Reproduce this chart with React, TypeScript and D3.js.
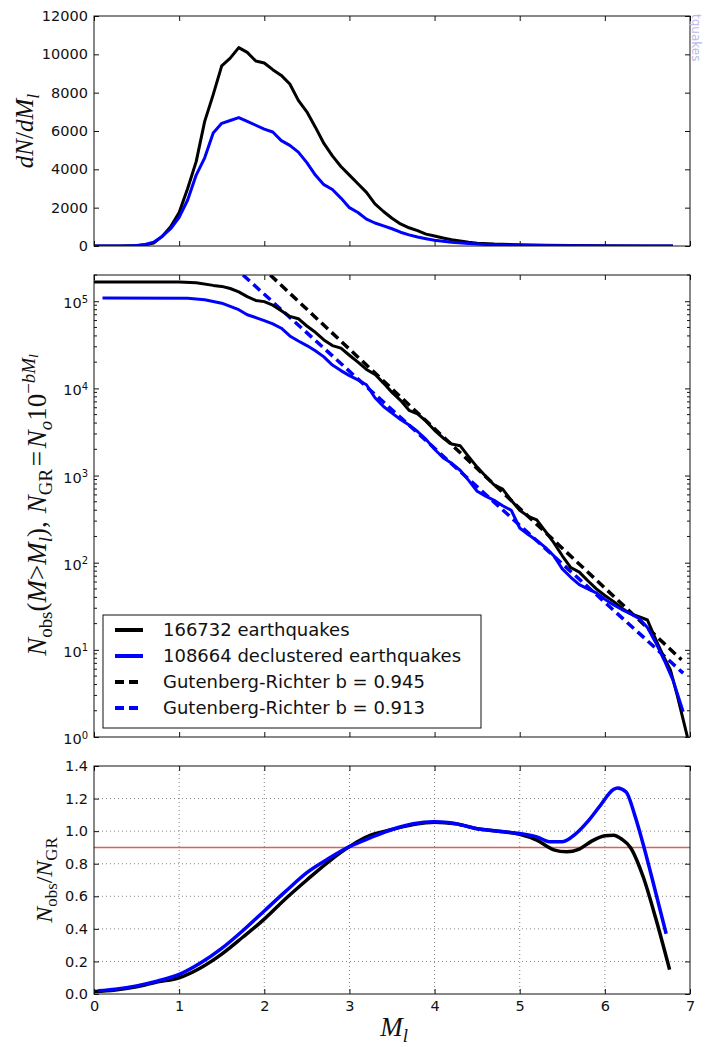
import React, { useRef, useEffect } from 'react';
import * as d3 from 'd3';

// magnitude ticks shared by all three panels
const magTicks = [0, 1, 2, 3, 4, 5, 6, 7];
const densityTicks = [0, 2000, 4000, 6000, 8000, 10000, 12000];
const cumulTicks = [1, 10, 100, 1000, 10000, 100000];
const ratioTicks = [0, 0.2, 0.4, 0.6, 0.8, 1.0, 1.2, 1.4];

// dN/dM, all events and declustered
const dndmAll: [number, number][] = [
  [0, 0], [0.3, 0], [0.5, 20], [0.6, 60], [0.7, 150], [0.8, 500], [0.9, 1000], [1.0, 1750],
  [1.1, 3000], [1.2, 4400], [1.3, 6500], [1.4, 7900], [1.5, 9400], [1.6, 9800], [1.7, 10350],
  [1.8, 10100], [1.9, 9650], [2.0, 9550], [2.1, 9200], [2.2, 8900], [2.3, 8450], [2.4, 7600],
  [2.5, 7000], [2.6, 6200], [2.7, 5350], [2.8, 4700], [2.9, 4150], [3.0, 3700], [3.1, 3250],
  [3.2, 2800], [3.3, 2200], [3.4, 1800], [3.5, 1450], [3.6, 1150], [3.7, 950], [3.8, 800],
  [3.9, 620], [4.0, 520], [4.1, 420], [4.2, 330], [4.3, 260], [4.4, 200], [4.5, 150],
  [4.7, 100], [5.0, 60], [5.3, 35], [5.6, 20], [6.0, 10], [6.5, 5], [6.8, 2],
];
const dndmDecl: [number, number][] = [
  [0, 0], [0.4, 0], [0.5, 20], [0.6, 80], [0.7, 200], [0.8, 500], [0.9, 900], [1.0, 1500],
  [1.1, 2400], [1.2, 3700], [1.3, 4600], [1.4, 5900], [1.5, 6400], [1.6, 6550], [1.7, 6700],
  [1.8, 6500], [1.9, 6300], [2.0, 6100], [2.1, 5950], [2.2, 5500], [2.3, 5250], [2.4, 4900],
  [2.5, 4350], [2.6, 3700], [2.7, 3200], [2.8, 2950], [2.9, 2500], [3.0, 2000], [3.1, 1750],
  [3.2, 1400], [3.3, 1200], [3.4, 1050], [3.5, 900], [3.6, 720], [3.7, 580], [3.8, 470],
  [3.9, 380], [4.0, 300], [4.2, 200], [4.4, 130], [4.6, 80], [4.8, 50], [5.0, 30],
  [5.5, 12], [6.0, 5], [6.5, 2], [6.8, 1],
];

// cumulative counts N(M > Ml)
const cumAll: [number, number][] = [
  [0, 166732], [1.0, 166500], [1.2, 163000], [1.4, 152000], [1.5, 148000], [1.6, 140000],
  [1.7, 128000], [1.8, 113000], [1.9, 102000], [2.0, 99000], [2.1, 90000], [2.2, 78000],
  [2.3, 67000], [2.4, 63000], [2.5, 52000], [2.6, 44000], [2.7, 36000], [2.8, 31000],
  [2.9, 29000], [3.0, 24000], [3.1, 20000], [3.2, 16500], [3.3, 14500], [3.4, 11500],
  [3.5, 9000], [3.6, 7300], [3.7, 5600], [3.8, 5100], [3.9, 4200], [4.0, 3300], [4.1, 2700],
  [4.2, 2300], [4.3, 2200], [4.4, 1650], [4.5, 1250], [4.6, 980], [4.7, 780], [4.8, 700],
  [4.9, 520], [5.0, 400], [5.1, 340], [5.2, 310], [5.3, 230], [5.4, 170], [5.5, 120],
  [5.6, 88], [5.7, 78], [5.8, 62], [5.9, 50], [6.0, 42], [6.1, 36], [6.2, 30], [6.3, 26],
  [6.4, 24], [6.5, 22], [6.6, 13], [6.7, 8], [6.77, 5.9], [6.85, 3], [6.97, 1],
];
const cumDecl: [number, number][] = [
  [0.1, 108664], [1.1, 108400], [1.3, 104000], [1.5, 95000], [1.7, 80000], [1.8, 70000],
  [1.9, 65000], [2.0, 60000], [2.1, 55000], [2.2, 49000], [2.3, 40000], [2.4, 35000],
  [2.5, 31000], [2.6, 27000], [2.7, 23000], [2.8, 18500], [2.9, 16000], [3.0, 14000],
  [3.1, 12500], [3.2, 11000], [3.3, 7800], [3.4, 6200], [3.5, 5200], [3.6, 4400],
  [3.7, 3800], [3.8, 3200], [3.9, 2600], [4.0, 2000], [4.1, 1600], [4.2, 1380], [4.3, 1150],
  [4.4, 880], [4.5, 660], [4.6, 580], [4.7, 520], [4.8, 450], [4.9, 400], [5.0, 250],
  [5.1, 210], [5.2, 180], [5.3, 150], [5.4, 120], [5.5, 85], [5.6, 68], [5.7, 56], [5.8, 50],
  [5.9, 45], [6.0, 38], [6.1, 33], [6.2, 29], [6.3, 26], [6.4, 23], [6.5, 18], [6.6, 12],
  [6.7, 7.5], [6.8, 4.5], [6.92, 1.95],
];

// Gutenberg-Richter fits, end points
const grAll: [number, number][] = [[2.07, 200000], [6.9, 7.7]];
const grDecl: [number, number][] = [[1.75, 200000], [6.92, 5.4]];

// N_obs / N_GR
const ratioAll: [number, number][] = [
  [0, 0.015], [0.25, 0.025], [0.5, 0.045], [0.75, 0.075], [1.0, 0.1], [1.25, 0.16],
  [1.5, 0.245], [1.75, 0.35], [2.0, 0.46], [2.25, 0.585], [2.5, 0.7], [2.75, 0.81],
  [3.0, 0.905], [3.25, 0.975], [3.5, 1.01], [3.75, 1.04], [4.0, 1.055], [4.25, 1.045],
  [4.5, 1.015], [4.75, 1.0], [5.0, 0.98], [5.2, 0.945], [5.4, 0.885], [5.55, 0.873],
  [5.7, 0.89], [5.85, 0.94], [6.0, 0.972], [6.1, 0.975], [6.2, 0.95], [6.3, 0.9],
  [6.45, 0.72], [6.6, 0.46], [6.76, 0.15],
];
const ratioDecl: [number, number][] = [
  [0.05, 0.02], [0.25, 0.03], [0.5, 0.05], [0.75, 0.08], [1.0, 0.12], [1.25, 0.19],
  [1.5, 0.28], [1.75, 0.39], [2.0, 0.51], [2.25, 0.63], [2.5, 0.745], [2.75, 0.83],
  [3.0, 0.905], [3.25, 0.96], [3.5, 1.01], [3.75, 1.045], [4.0, 1.057], [4.25, 1.045],
  [4.5, 1.015], [4.75, 1.0], [5.0, 0.985], [5.2, 0.965], [5.35, 0.935], [5.5, 0.935],
  [5.65, 0.98], [5.8, 1.06], [5.95, 1.16], [6.1, 1.255], [6.15, 1.265], [6.25, 1.24],
  [6.35, 1.1], [6.45, 0.92], [6.55, 0.72], [6.72, 0.37],
];
const ratioLevel = 0.9;

const legendLabels = [
  '166732 earthquakes',
  '108664 declustered earthquakes',
  'Gutenberg-Richter b = 0.945',
  'Gutenberg-Richter b = 0.913',
];

type Part = { s: string; it?: boolean; pos?: 'sub' | 'sup' | 'supsub'; dx?: number };

const W = 707;
const H = 1047;
const L = 94;
const R = 690;
const tickFont = 'DejaVu Sans, Verdana, sans-serif';
const mathFont = 'Liberation Serif, Times New Roman, serif';

const App = () => {
  const ref = useRef<SVGSVGElement>(null);

  useEffect(() => {
    const svg = d3.select(ref.current);
    svg.selectAll('*').remove();

    const x = d3.scaleLinear().domain([0, 7]).range([L, R]);
    const yTop = d3.scaleLinear().domain([0, 12000]).range([246, 16]);
    const yMid = d3.scaleLog().domain([1, 2e5]).range([737, 275]);
    const yBot = d3.scaleLinear().domain([0, 1.4]).range([994, 766]);

    const defs = svg.append('defs');
    const clip = (id: string, y0: number, y1: number) => {
      defs.append('clipPath').attr('id', id)
        .append('rect').attr('x', L).attr('y', y0).attr('width', R - L).attr('height', y1 - y0);
    };
    clip('cTop', 16, 246);
    clip('cMid', 275, 737);
    clip('cBot', 766, 994);

    const styleAxis = (g: any) => {
      g.select('.domain').remove();
      g.selectAll('line').attr('stroke', '#111');
      g.selectAll('text').attr('font-family', tickFont).attr('font-size', 14.5).attr('fill', '#111');
    };

    const axes = (y: any, y0: number, y1: number, yTicks: number[], yFmt: any, xLabels: boolean) => {
      svg.append('g').attr('transform', `translate(0,${y1})`)
        .call(d3.axisBottom(x).tickValues(magTicks).tickSize(-5).tickPadding(7)
          .tickFormat(xLabels ? (d: any) => String(d) : () => ''))
        .call(styleAxis);
      svg.append('g').attr('transform', `translate(0,${y0})`)
        .call(d3.axisTop(x).tickValues(magTicks).tickSize(-5).tickFormat(() => ''))
        .call(styleAxis);
      const gl = svg.append('g').attr('transform', `translate(${L},0)`)
        .call(d3.axisLeft(y).tickValues(yTicks).tickSize(-5).tickPadding(6).tickFormat(yFmt))
        .call(styleAxis);
      svg.append('g').attr('transform', `translate(${R},0)`)
        .call(d3.axisRight(y).tickValues(yTicks).tickSize(-5).tickFormat(() => ''))
        .call(styleAxis);
      return gl;
    };

    const frame = (y0: number, y1: number) => {
      svg.append('rect').attr('x', L).attr('y', y0).attr('width', R - L).attr('height', y1 - y0)
        .attr('fill', 'none').attr('stroke', '#111').attr('stroke-width', 1);
    };

    const rich = (t: any, parts: Part[], fs: number) => {
      let cur = 0;
      parts.forEach((p) => {
        const off = p.pos === 'sub' ? 0.22 * fs : p.pos === 'sup' ? -0.42 * fs : p.pos === 'supsub' ? -0.3 * fs : 0;
        const size = p.pos === 'supsub' ? fs * 0.5 : p.pos ? fs * 0.7 : fs;
        t.append('tspan').attr('dy', off - cur).attr('dx', (p.dx || 0) * fs)
          .attr('font-size', size).attr('font-style', p.it ? 'italic' : 'normal').text(p.s);
        cur = off;
      });
    };

    // ---- top panel: dN/dM
    const lineTop = d3.line<[number, number]>().x((d) => x(d[0])).y((d) => yTop(d[1]));
    const gTop = svg.append('g').attr('clip-path', 'url(#cTop)');
    gTop.append('path').attr('d', lineTop(dndmAll)).attr('fill', 'none').attr('stroke', '#000').attr('stroke-width', 3).attr('stroke-linejoin', 'round');
    gTop.append('path').attr('d', lineTop(dndmDecl)).attr('fill', 'none').attr('stroke', '#0000ff').attr('stroke-width', 3).attr('stroke-linejoin', 'round');
    axes(yTop, 16, 246, densityTicks, (d: any) => String(d), false);
    frame(16, 246);

    // ---- middle panel: cumulative, log scale
    const lineMid = d3.line<[number, number]>().x((d) => x(d[0])).y((d) => yMid(d[1]));
    const gMid = svg.append('g').attr('clip-path', 'url(#cMid)');
    gMid.append('path').attr('d', lineMid(grAll)).attr('fill', 'none').attr('stroke', '#000').attr('stroke-width', 3.5).attr('stroke-dasharray', '9,5');
    gMid.append('path').attr('d', lineMid(grDecl)).attr('fill', 'none').attr('stroke', '#0000ff').attr('stroke-width', 3.5).attr('stroke-dasharray', '9,5');
    gMid.append('path').attr('d', lineMid(cumAll)).attr('fill', 'none').attr('stroke', '#000').attr('stroke-width', 3).attr('stroke-linejoin', 'round');
    gMid.append('path').attr('d', lineMid(cumDecl)).attr('fill', 'none').attr('stroke', '#0000ff').attr('stroke-width', 3).attr('stroke-linejoin', 'round');
    const gl = axes(yMid, 275, 737, cumulTicks, () => '', false);
    gl.selectAll('.tick text').each(function (d: any) {
      const t = d3.select(this);
      t.text('');
      t.attr('dy', '0.45em');
      t.append('tspan').text('10');
      t.append('tspan').attr('dy', '-0.55em').attr('font-size', 10).text(String(Math.round(Math.log10(d))));
    });
    // minor log ticks
    const minors: number[] = [];
    cumulTicks.forEach((k) => { for (let m = 2; m <= 9; m++) if (m * k <= 2e5) minors.push(m * k); });
    svg.append('g').selectAll('line.mn').data(minors).join('line')
      .attr('x1', L).attr('x2', L + 3).attr('y1', (d) => yMid(d)).attr('y2', (d) => yMid(d)).attr('stroke', '#111');
    svg.append('g').selectAll('line.mn').data(minors).join('line')
      .attr('x1', R - 3).attr('x2', R).attr('y1', (d) => yMid(d)).attr('y2', (d) => yMid(d)).attr('stroke', '#111');
    frame(275, 737);

    // legend
    const lg = svg.append('g');
    lg.append('rect').attr('x', 103).attr('y', 615).attr('width', 378).attr('height', 113)
      .attr('fill', '#fff').attr('stroke', '#111').attr('stroke-width', 1);
    const legColors = ['#000', '#0000ff', '#000', '#0000ff'];
    legendLabels.forEach((lab, i) => {
      const yy = 630 + i * 26;
      lg.append('line').attr('x1', 115).attr('x2', 143).attr('y1', yy).attr('y2', yy)
        .attr('stroke', legColors[i]).attr('stroke-width', 4)
        .attr('stroke-dasharray', i >= 2 ? '9,5' : null);
      lg.append('text').attr('x', 163).attr('y', yy).attr('dy', '0.35em')
        .attr('font-family', tickFont).attr('font-size', 18).attr('fill', '#111').text(lab);
    });

    // ---- bottom panel: ratio
    const gGrid = svg.append('g');
    gGrid.selectAll('line.gx').data(magTicks.slice(1, -1)).join('line')
      .attr('x1', (d) => x(d)).attr('x2', (d) => x(d)).attr('y1', 766).attr('y2', 994)
      .attr('stroke', '#666').attr('stroke-width', 0.8).attr('stroke-dasharray', '1,3');
    gGrid.selectAll('line.gy').data(ratioTicks.slice(1, -1)).join('line')
      .attr('x1', L).attr('x2', R).attr('y1', (d) => yBot(d)).attr('y2', (d) => yBot(d))
      .attr('stroke', '#666').attr('stroke-width', 0.8).attr('stroke-dasharray', '1,3');

    const lineBot = d3.line<[number, number]>().x((d) => x(d[0])).y((d) => yBot(d[1])).curve(d3.curveMonotoneX);
    const gBot = svg.append('g').attr('clip-path', 'url(#cBot)');
    gBot.append('line').attr('x1', x(0)).attr('x2', x(7)).attr('y1', yBot(ratioLevel)).attr('y2', yBot(ratioLevel))
      .attr('stroke', '#e35b5b').attr('stroke-width', 1.6);
    gBot.append('path').attr('d', lineBot(ratioAll)).attr('fill', 'none').attr('stroke', '#000').attr('stroke-width', 3.5);
    gBot.append('path').attr('d', lineBot(ratioDecl)).attr('fill', 'none').attr('stroke', '#0000ff').attr('stroke-width', 3.5);
    axes(yBot, 766, 994, ratioTicks, d3.format('.1f'), true);
    frame(766, 994);

    // ---- axis titles
    const t1 = svg.append('text').attr('transform', 'translate(33,131) rotate(-90)')
      .attr('text-anchor', 'middle').attr('font-family', mathFont).attr('fill', '#111');
    rich(t1, [{ s: 'dN', it: true }, { s: '/' }, { s: 'dM', it: true }, { s: 'l', it: true, pos: 'sub' }], 25);

    const t2 = svg.append('text').attr('transform', 'translate(46,505) rotate(-90)')
      .attr('text-anchor', 'middle').attr('font-family', mathFont).attr('fill', '#111');
    rich(t2, [
      { s: 'N', it: true }, { s: 'obs', pos: 'sub' }, { s: '(' }, { s: 'M', it: true }, { s: '>' },
      { s: 'M', it: true }, { s: 'l', it: true, pos: 'sub' }, { s: '),' },
      { s: 'N', it: true, dx: 0.3 }, { s: 'GR', pos: 'sub' }, { s: '=', dx: 0.1 },
      { s: 'N', it: true, dx: 0.1 }, { s: 'o', it: true, pos: 'sub' }, { s: '10' },
      { s: '\u2212', pos: 'sup' }, { s: 'bM', it: true, pos: 'sup' }, { s: 'l', it: true, pos: 'supsub' },
    ], 27);

    const t3 = svg.append('text').attr('transform', 'translate(52,880) rotate(-90)')
      .attr('text-anchor', 'middle').attr('font-family', mathFont).attr('fill', '#111');
    rich(t3, [{ s: 'N', it: true }, { s: 'obs', pos: 'sub' }, { s: '/' }, { s: 'N', it: true }, { s: 'GR', pos: 'sub' }], 24);

    const t4 = svg.append('text').attr('x', 394).attr('y', 1036)
      .attr('text-anchor', 'middle').attr('font-family', mathFont).attr('fill', '#111');
    rich(t4, [{ s: 'M', it: true }, { s: 'l', it: true, pos: 'sub' }], 27);

    // faint label from a neighbouring figure at the right edge
    svg.append('text').attr('transform', 'translate(692,14) rotate(90)')
      .attr('font-family', tickFont).attr('font-size', 12).attr('fill', '#b9b9ea').text('tquakes');
  }, []);

  return (
    <svg ref={ref} width={W} height={H}
      style={{ position: 'absolute', left: 0, top: 0, background: '#fff' }} />
  );
};

export default App;
